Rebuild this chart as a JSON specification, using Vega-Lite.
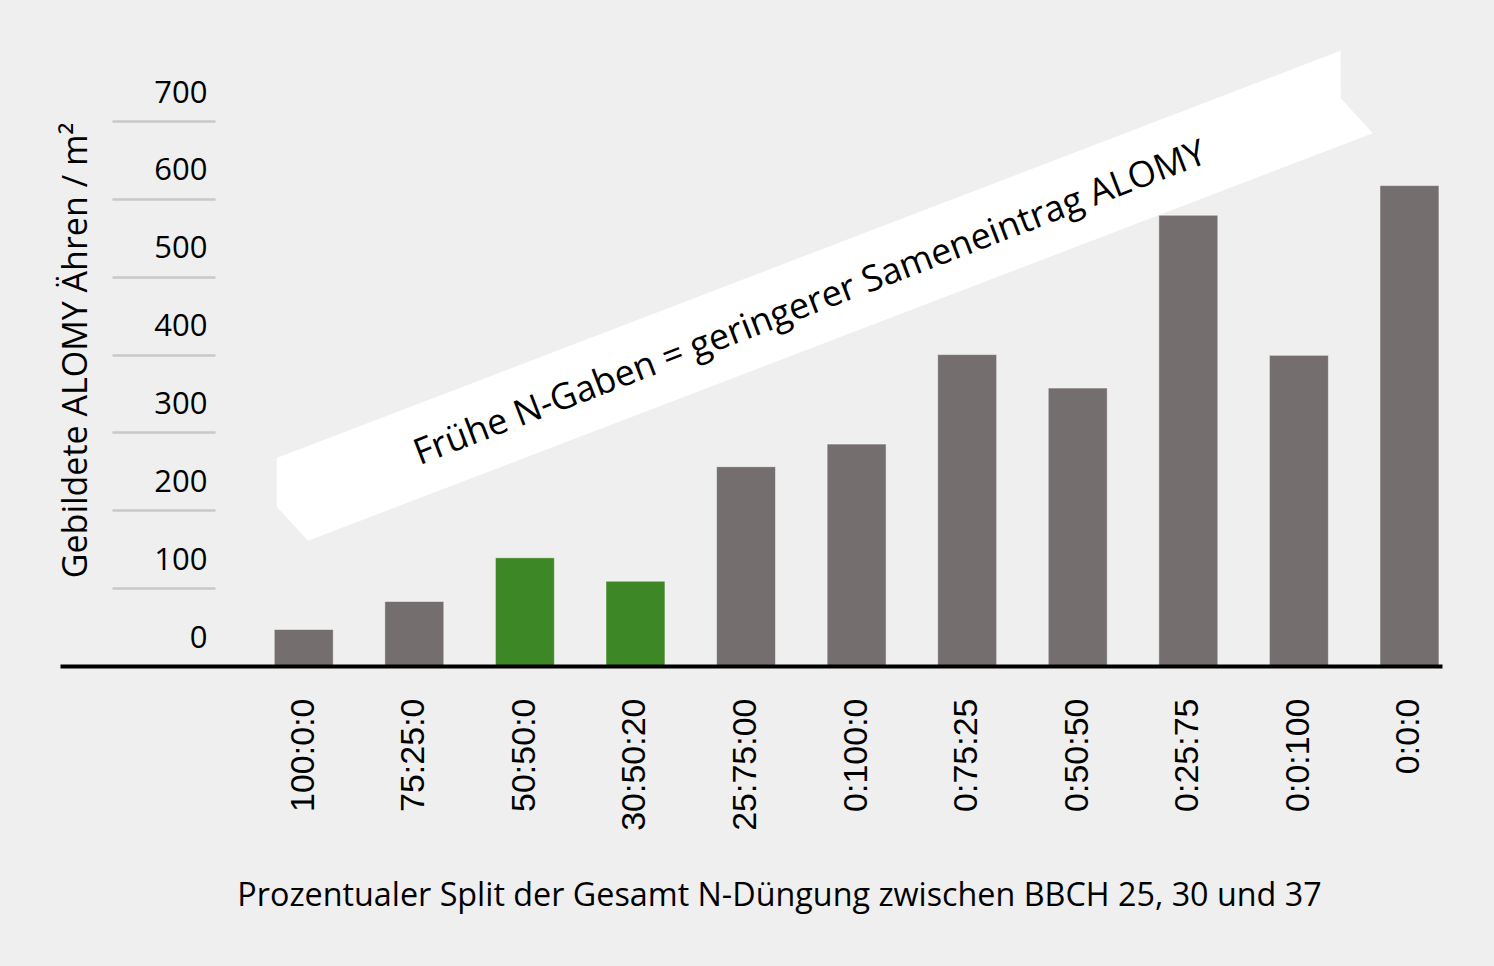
{
  "$schema": "https://vega.github.io/schema/vega-lite/v6.json",
  "width": 1382,
  "height": 545,
  "autosize": {"type": "none"},
  "padding": {"left": 60, "top": 121, "right": 52, "bottom": 300},
  "background": "#efefef",
  "config": {"view": {"stroke": null}},
  "resolve": {"scale": {"x": "independent"}, "axis": {"x": "independent"}},
  "layer": [
    {
      "data": {
        "values": [
          {"pos": -0.245, "oben": 267.1, "unten": 204.6},
          {"pos": 0.038, "oben": 282.6, "unten": 160.9},
          {"pos": 9.377, "oben": 790.3, "unten": 668.4},
          {"pos": 9.379, "oben": 729.1, "unten": 668.4},
          {"pos": 9.667, "oben": 684.2, "unten": 684.2}
        ]
      },
      "mark": {"type": "area", "fill": "#ffffff", "fillOpacity": 1},
      "encoding": {
        "x": {
          "field": "pos",
          "type": "quantitative",
          "scale": {"domain": [-2.205, 10.294], "nice": false, "zero": false},
          "axis": null
        },
        "y": {
          "field": "oben",
          "type": "quantitative",
          "scale": {"domain": [0, 700], "nice": false}
        },
        "y2": {"field": "unten"}
      }
    },
    {
      "data": {
        "values": [
          {"split": "100:0:0", "aehren": 47, "gruppe": "grau"},
          {"split": "75:25:0", "aehren": 83, "gruppe": "grau"},
          {"split": "50:50:0", "aehren": 139, "gruppe": "gruen"},
          {"split": "30:50:20", "aehren": 109, "gruppe": "gruen"},
          {"split": "25:75:00", "aehren": 256, "gruppe": "grau"},
          {"split": "0:100:0", "aehren": 285, "gruppe": "grau"},
          {"split": "0:75:25", "aehren": 400, "gruppe": "grau"},
          {"split": "0:50:50", "aehren": 357, "gruppe": "grau"},
          {"split": "0:25:75", "aehren": 579, "gruppe": "grau"},
          {"split": "0:0:100", "aehren": 399, "gruppe": "grau"},
          {"split": "0:0:0", "aehren": 617, "gruppe": "grau"}
        ]
      },
      "mark": {"type": "bar", "stroke": "#ffffff", "strokeOpacity": 0.5, "strokeWidth": 1},
      "encoding": {
        "x": {
          "field": "split",
          "type": "nominal",
          "sort": null,
          "scale": {"paddingInner": 0.4664, "paddingOuter": 0.9826, "align": 0.986},
          "axis": {
            "title": "Prozentualer Split der Gesamt N-Düngung zwischen BBCH 25, 30 und 37",
            "titleFont": "Open Sans",
            "titleFontSize": 32.3,
            "titleFontWeight": "normal",
            "titleColor": "#000000",
            "titleX": 719,
            "titleY": 239,
            "titleAlign": "center",
            "titleBaseline": "alphabetic",
            "labelAngle": -90,
            "labelFont": "Liberation Sans",
            "labelFontSize": 34,
            "labelColor": "#000000",
            "labelPadding": 32,
            "ticks": false,
            "tickSize": 0,
            "domainColor": "#000000",
            "domainWidth": 4,
            "zindex": 2
          }
        },
        "y": {
          "field": "aehren",
          "type": "quantitative",
          "scale": {"domain": [0, 700], "nice": false},
          "axis": {
            "title": "Gebildete ALOMY Ähren / m²",
            "titleFont": "Open Sans",
            "titleFontSize": 34,
            "titleFontWeight": "normal",
            "titleColor": "#000000",
            "titleAngle": -90,
            "titleX": -129,
            "titleY": 229,
            "titleAlign": "center",
            "titleBaseline": "alphabetic",
            "offset": -155,
            "values": [0, 100, 200, 300, 400, 500, 600, 700],
            "domain": false,
            "grid": false,
            "tickSize": 103,
            "tickWidth": 2.5,
            "tickColor": "#c8c8c8",
            "labelFont": "Open Sans",
            "labelFontSize": 31,
            "labelColor": "#000000",
            "labelAlign": "right",
            "labelPadding": -95,
            "labelOffset": -28
          }
        },
        "color": {
          "field": "gruppe",
          "type": "nominal",
          "scale": {"domain": ["grau", "gruen"], "range": ["#746e6e", "#3e8726"]},
          "legend": null
        }
      }
    },
    {
      "data": {
        "values": [
          {"pos": 4.614, "wert": 452.5, "text": "Frühe N-Gaben = geringerer Sameneintrag ALOMY"}
        ]
      },
      "mark": {
        "type": "text",
        "font": "Open Sans",
        "fontSize": 36,
        "color": "#000000",
        "angle": -21,
        "align": "center",
        "baseline": "alphabetic"
      },
      "encoding": {
        "x": {
          "field": "pos",
          "type": "quantitative",
          "scale": {"domain": [-2.205, 10.294], "nice": false, "zero": false},
          "axis": null
        },
        "y": {
          "field": "wert",
          "type": "quantitative",
          "scale": {"domain": [0, 700], "nice": false}
        },
        "text": {"field": "text"}
      }
    }
  ]
}
